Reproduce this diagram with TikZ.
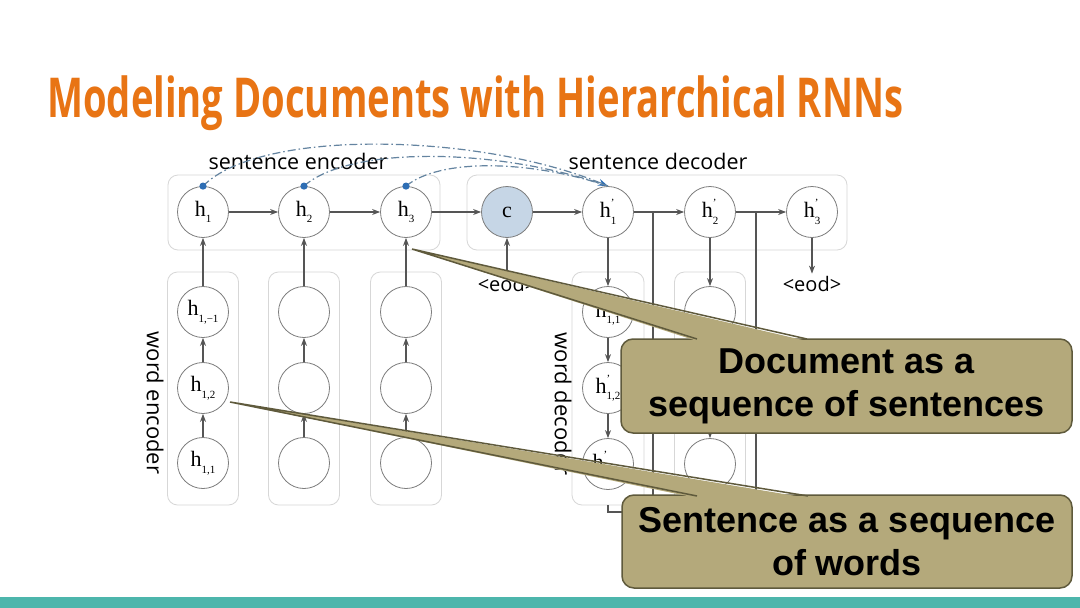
\documentclass[tikz,border=0pt]{standalone}
\usepackage{fontspec}
\setmainfont{Liberation Serif}
\newfontfamily\osans{Open Sans}
\newfontfamily\arialf{Liberation Sans}
\usetikzlibrary{arrows.meta}
\definecolor{ttl}{RGB}{232,116,20}
\definecolor{barcol}{RGB}{77,182,172}
\definecolor{callfill}{RGB}{180,169,123}
\definecolor{calldraw}{RGB}{95,90,60}
\definecolor{cfill}{RGB}{198,214,230}
\definecolor{dotblue}{RGB}{46,110,180}
\definecolor{dashcol}{RGB}{100,132,160}
\definecolor{linecol}{RGB}{85,85,85}
\definecolor{boxcol}{RGB}{215,215,215}
\definecolor{ringcol}{RGB}{125,125,125}
\newcommand{\hsub}[1]{h\raisebox{-0.3em}{\fontsize{11}{11}\selectfont #1}}
\newcommand{\hpr}[1]{h\rlap{\raisebox{0.5em}{\fontsize{11}{11}\selectfont '}}\raisebox{-0.3em}{\fontsize{11}{11}\selectfont #1}}
\tikzset{
  neuron/.style={circle, draw=ringcol, line width=0.8pt, fill=white, minimum size=51pt, inner sep=0pt, font=\fontsize{22}{24}\selectfont},
  grp/.style={draw=boxcol, rounded corners=10pt, line width=0.8pt, inner sep=0pt},
  arr/.style={-{Stealth[length=8pt,width=6pt]}, draw=linecol, line width=1.1pt},
  plain/.style={draw=linecol, line width=1.1pt},
  lbl/.style={font=\osans\fontsize{21.5}{24}\selectfont, inner sep=0pt},
  wlbl/.style={font=\osans\fontsize{22}{24}\selectfont, inner sep=0pt, rotate=-90},
  eodlbl/.style={font=\osans\fontsize{20}{22}\selectfont, inner sep=2pt},
  dd/.style={draw=dashcol, line width=1.2pt, dash pattern=on 8pt off 3pt on 1.5pt off 3pt},
  callout/.style={draw=calldraw, fill=callfill, rounded corners=12pt, line width=1.5pt, align=center, inner sep=0pt, font=\arialf\bfseries\fontsize{36}{43}\selectfont}
}
\begin{document}
\begin{tikzpicture}[x=1pt,y=-1pt]
\useasboundingbox (0,0) rectangle (1080,608);
\fill[white] (0,0) rectangle (1080,608);
\fill[barcol] (0,597) rectangle (1080,608);

% title
\node[anchor=base west, text=ttl, inner sep=0pt] (title) at (47,117)
  {\resizebox{856pt}{\height}{\osans\bfseries\fontsize{55}{60}\selectfont Modeling Documents with Hierarchical RNNs}};

% group boxes
\node[grp, minimum width=272pt, minimum height=75pt] (senc) at (304,212.5) {};
\node[grp, minimum width=380pt, minimum height=75pt] (sdec) at (657,212.5) {};
\node[grp, minimum width=71pt, minimum height=233pt] (ec1) at (203,388.5) {};
\node[grp, minimum width=71pt, minimum height=233pt] (ec2) at (304,388.5) {};
\node[grp, minimum width=71pt, minimum height=233pt] (ec3) at (406,388.5) {};
\node[grp, minimum width=72pt, minimum height=233pt] (dc1) at (608,388.5) {};
\node[grp, minimum width=71pt, minimum height=233pt] (dc2) at (710,388.5) {};

% labels
\node[lbl, anchor=base] (lenc) at (298,169) {sentence encoder};
\node[lbl, anchor=base] (ldec) at (658,169) {sentence decoder};
\node[wlbl] (wenc) at (155,403) {word encoder};
\node[wlbl] (wdec) at (563,404) {word decoder};

% sentence level nodes
\node[neuron] (h1) at (203,212) {\hsub{1}};
\node[neuron] (h2) at (304,212) {\hsub{2}};
\node[neuron] (h3) at (406,212) {\hsub{3}};
\node[neuron, fill=cfill] (c) at (507,212) {c};
\node[neuron] (d1) at (608,212) {\hpr{1}};
\node[neuron] (d2) at (710,212) {\hpr{2}};
\node[neuron] (d3) at (812,212) {\hpr{3}};

% word encoder nodes
\node[neuron] (e13) at (203,312) {\hsub{1,\textminus1}};
\node[neuron] (e12) at (203,388) {\hsub{1,2}};
\node[neuron] (e11) at (203,463) {\hsub{1,1}};
\node[neuron] (e23) at (304,312) {};
\node[neuron] (e22) at (304,388) {};
\node[neuron] (e21) at (304,463) {};
\node[neuron] (e33) at (406,312) {};
\node[neuron] (e32) at (406,388) {};
\node[neuron] (e31) at (406,463) {};

% word decoder nodes
\node[neuron] (w11) at (608,312) {\hpr{1,1}};
\node[neuron] (w12) at (608,388) {\hpr{1,2}};
\node[neuron] (w13) at (608,464) {\hpr{1,\textminus1}};
\node[neuron] (w21) at (710,312) {};
\node[neuron] (w22) at (710,388) {};
\node[neuron] (w23) at (710,464) {};

% eod labels
\node[eodlbl, anchor=base] (eod1) at (507,291) {<eod>};
\node[eodlbl, anchor=base] (eod2) at (812,291) {<eod>};

% sentence-level arrows
\draw[arr] (h1) -- (h2);
\draw[arr] (h2) -- (h3);
\draw[arr] (h3) -- (c);
\draw[arr] (c) -- (d1);
\draw[arr] (d1) -- (d2);
\draw[arr] (d2) -- (d3);
\draw[arr] (eod1) -- (c);
\draw[arr] (d3) -- (eod2);

% word encoder arrows
\foreach \k in {1,2,3}{
  \draw[arr] (e\k1) -- (e\k2);
  \draw[arr] (e\k2) -- (e\k3);
}
\draw[arr] (e13) -- (h1);
\draw[arr] (e23) -- (h2);
\draw[arr] (e33) -- (h3);

% word decoder arrows
\draw[arr] (d1) -- (w11);
\draw[arr] (w11) -- (w12);
\draw[arr] (w12) -- (w13);
\draw[arr] (d2) -- (w21);
\draw[arr] (w21) -- (w22);
\draw[arr] (w22) -- (w23);

% branch lines feeding the word decoders
\coordinate (b1) at (653,212);
\coordinate (b1d) at (653,512);
\coordinate (b1l) at (608,512);
\coordinate (b2) at (756,212);
\coordinate (b2d) at (756,512);
\coordinate (b2l) at (710,512);
\draw[plain] (b1) -- (b1d) -- (b1l) -- (dc1.south);
\draw[plain] (b2) -- (b2d) -- (b2l) -- (dc2.south);

% dash-dot curves into the decoder
\draw[dd, -{Stealth[length=10pt,width=7pt,color=dotblue]}] (h1.north) .. controls (260,128) and (480,133) .. (d1.north);
\draw[dd] (h2.north) .. controls (350,145) and (500,148) .. (d1.north);
\draw[dd] (h3.north) .. controls (440,158) and (530,160) .. (d1.north);
\fill[dotblue] (h1.north) circle[radius=3.6pt];
\fill[dotblue] (h2.north) circle[radius=3.6pt];
\fill[dotblue] (h3.north) circle[radius=3.6pt];

% callout 1
\node[callout, minimum width=451pt, minimum height=94pt] (doc) at (846.5,386) {Document as a\\sequence of sentences};
\coordinate (t1) at (412,249);
\coordinate (t1a) at (697,339);
\coordinate (t1b) at (807,339);
\fill[callfill] ([yshift=-2pt]t1a) -- (t1) -- ([yshift=-2pt]t1b) -- cycle;
\draw[calldraw, line width=1.5pt, line join=miter] (t1a) -- (t1) -- (t1b);

% callout 2
\node[callout, minimum width=450pt, minimum height=93pt] (sent) at (847,541.5) {Sentence as a sequence\\of words};
\coordinate (t2) at (230,402);
\coordinate (t2a) at (697,496);
\coordinate (t2b) at (808,496);
\fill[callfill] ([yshift=-2pt]t2a) -- (t2) -- ([yshift=-2pt]t2b) -- cycle;
\draw[calldraw, line width=1.5pt, line join=miter] (t2a) -- (t2) -- (t2b);
\end{tikzpicture}
\end{document}
